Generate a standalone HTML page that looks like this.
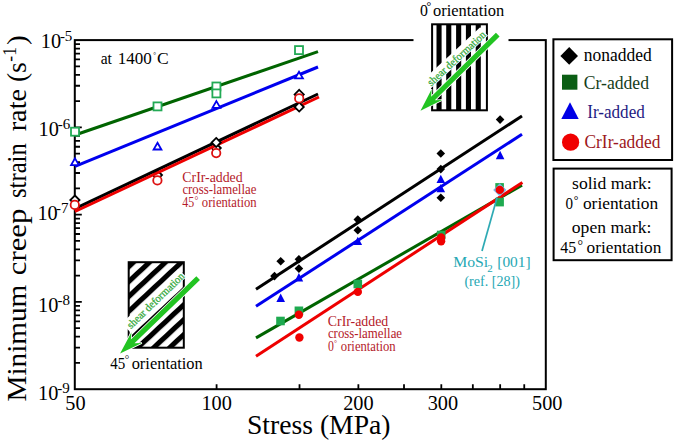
<!DOCTYPE html><html><head><meta charset="utf-8"><style>html,body{margin:0;padding:0;background:#fff;overflow:hidden}svg{display:block}text{font-family:"Liberation Serif",serif;white-space:pre}</style></head><body>
<svg width="675" height="443" viewBox="0 0 675 443">
<rect width="675" height="443" fill="#fff"/>
<path d="M74.80 362.93h5.2 M74.80 347.56h5.2 M74.80 336.66h5.2 M74.80 328.20h5.2 M74.80 321.29h5.2 M74.80 315.44h5.2 M74.80 310.38h5.2 M74.80 305.92h5.2 M74.80 275.65h5.2 M74.80 260.28h5.2 M74.80 249.38h5.2 M74.80 240.92h5.2 M74.80 234.01h5.2 M74.80 228.17h5.2 M74.80 223.11h5.2 M74.80 218.64h5.2 M74.80 188.38h5.2 M74.80 173.01h5.2 M74.80 162.11h5.2 M74.80 153.65h5.2 M74.80 146.74h5.2 M74.80 140.89h5.2 M74.80 135.83h5.2 M74.80 131.37h5.2 M74.80 101.10h5.2 M74.80 85.73h5.2 M74.80 74.83h5.2 M74.80 66.37h5.2 M74.80 59.46h5.2 M74.80 53.62h5.2 M74.80 48.56h5.2 M74.80 44.09h5.2 M74.80 301.93h7 M74.80 214.65h7 M74.80 127.38h7 M216.59 389.20v-5 M299.52 389.20v-5 M358.37 389.20v-5 M404.01 389.20v-5 M441.31 389.20v-5 M472.84 389.20v-5 M500.16 389.20v-5 M524.25 389.20v-5" stroke="#000" stroke-width="1.8" fill="none"/>
<rect x="74.8" y="40.1" width="470.99999999999994" height="349.09999999999997" fill="none" stroke="#000" stroke-width="2"/>
<text x="40.82" y="47.5" font-size="20.3">10</text>
<text x="59.89" y="40.50" font-size="15">-5</text>
<text x="38.62" y="135.5" font-size="20.3">10</text>
<text x="57.85" y="128.50" font-size="15">-6</text>
<text x="37.42" y="219.5" font-size="20.3">10</text>
<text x="55.94" y="212.50" font-size="15">-7</text>
<text x="38.12" y="312.2" font-size="20.3">10</text>
<text x="57.48" y="305.20" font-size="15">-8</text>
<text x="38.12" y="399.5" font-size="20.3">10</text>
<text x="57.22" y="392.50" font-size="15">-9</text>
<text x="75.50" y="410" font-size="20.3" text-anchor="middle">50</text>
<text x="216.60" y="410" font-size="20.3" text-anchor="middle">100</text>
<text x="358.40" y="410" font-size="20.3" text-anchor="middle">200</text>
<text x="442.90" y="410" font-size="20.3" text-anchor="middle">300</text>
<text x="547.30" y="410" font-size="20.3" text-anchor="middle">500</text>
<g transform="rotate(-90)">
<text x="-401.54" y="26.20" font-size="28" fill="#000" textLength="116.80" lengthAdjust="spacingAndGlyphs">Minimum</text>
<text x="-275.17" y="26.20" font-size="28" fill="#000" textLength="66.37" lengthAdjust="spacingAndGlyphs">creep</text>
<text x="-198.01" y="26.20" font-size="28" fill="#000" textLength="54.78" lengthAdjust="spacingAndGlyphs">strain</text>
<text x="-131.37" y="26.20" font-size="28" fill="#000" textLength="42.45" lengthAdjust="spacingAndGlyphs">rate</text>
<text x="-82.12" y="26.20" font-size="28" fill="#000" textLength="20.02" lengthAdjust="spacingAndGlyphs">(s</text>
<text x="-45.14" y="26.20" font-size="28" fill="#000" textLength="9.72" lengthAdjust="spacingAndGlyphs">)</text>
<text x="-61.65" y="15.60" font-size="18.5" fill="#000" textLength="14.60" lengthAdjust="spacingAndGlyphs">-1</text>
</g>
<text x="246.95" y="434.00" font-size="27" fill="#000" textLength="143.56" lengthAdjust="spacingAndGlyphs">Stress (MPa)</text>
<path d="M74.90 195.50L79.50 200.10L74.90 204.70L70.30 200.10Z" fill="#fff" stroke="#000" stroke-width="1.8"/>
<path d="M157.40 170.50L162.00 175.10L157.40 179.70L152.80 175.10Z" fill="#fff" stroke="#000" stroke-width="1.8"/>
<path d="M216.20 143.50L220.80 148.10L216.20 152.70L211.60 148.10Z" fill="#fff" stroke="#000" stroke-width="1.8"/>
<line x1="75" y1="135.00" x2="318" y2="51.60" stroke="#006400" stroke-width="3"/>
<line x1="75" y1="166.40" x2="318" y2="67.00" stroke="#0000ee" stroke-width="3"/>
<line x1="75" y1="208.60" x2="318" y2="94.00" stroke="#000" stroke-width="3"/>
<line x1="75" y1="211.50" x2="319" y2="97.00" stroke="#ee0000" stroke-width="3"/>
<line x1="256" y1="289.20" x2="522" y2="116.00" stroke="#000" stroke-width="3"/>
<line x1="256" y1="306.30" x2="522" y2="134.30" stroke="#0000ee" stroke-width="3"/>
<line x1="256" y1="337.90" x2="522" y2="185.20" stroke="#006400" stroke-width="3"/>
<line x1="256" y1="356.30" x2="522.4" y2="182.50" stroke="#ee0000" stroke-width="3"/>
<path d="M216.20 137.90L220.80 142.50L216.20 147.10L211.60 142.50Z" fill="#fff" stroke="#000" stroke-width="1.8"/>
<path d="M299.20 89.80L303.80 94.40L299.20 99.00L294.60 94.40Z" fill="#fff" stroke="#000" stroke-width="1.8"/>
<path d="M299.20 102.40L303.80 107.00L299.20 111.60L294.60 107.00Z" fill="#fff" stroke="#000" stroke-width="1.8"/>
<circle cx="74.80" cy="204.90" r="4.2" fill="#fff" stroke="#dd1111" stroke-width="1.8"/>
<circle cx="157.40" cy="180.40" r="4.2" fill="#fff" stroke="#dd1111" stroke-width="1.8"/>
<circle cx="216.20" cy="153.10" r="4.2" fill="#fff" stroke="#dd1111" stroke-width="1.8"/>
<circle cx="299.20" cy="98.40" r="4.2" fill="#fff" stroke="#dd1111" stroke-width="1.8"/>
<path d="M75.00 158.40L78.90 165.10L71.10 165.10Z" fill="#fff" stroke="#0000ee" stroke-width="1.8"/>
<path d="M157.50 142.80L161.40 149.50L153.60 149.50Z" fill="#fff" stroke="#0000ee" stroke-width="1.8"/>
<path d="M216.40 101.10L220.30 107.80L212.50 107.80Z" fill="#fff" stroke="#0000ee" stroke-width="1.8"/>
<path d="M299.00 71.70L302.90 78.40L295.10 78.40Z" fill="#fff" stroke="#0000ee" stroke-width="1.8"/>
<rect x="71.00" y="127.70" width="8" height="8" fill="#fff" stroke="#22aa55" stroke-width="1.8"/>
<rect x="153.50" y="102.40" width="8" height="8" fill="#fff" stroke="#22aa55" stroke-width="1.8"/>
<rect x="212.40" y="82.50" width="8" height="8" fill="#fff" stroke="#22aa55" stroke-width="1.8"/>
<rect x="212.40" y="89.40" width="8" height="8" fill="#fff" stroke="#22aa55" stroke-width="1.8"/>
<rect x="295.00" y="46.10" width="8" height="8" fill="#fff" stroke="#22aa55" stroke-width="1.8"/>
<path d="M274.50 271.80L278.80 276.10L274.50 280.40L270.20 276.10Z" fill="#000"/>
<path d="M280.70 256.90L285.00 261.20L280.70 265.50L276.40 261.20Z" fill="#000"/>
<path d="M298.90 254.90L303.20 259.20L298.90 263.50L294.60 259.20Z" fill="#000"/>
<path d="M298.90 264.30L303.20 268.60L298.90 272.90L294.60 268.60Z" fill="#000"/>
<path d="M357.80 215.30L362.10 219.60L357.80 223.90L353.50 219.60Z" fill="#000"/>
<path d="M357.80 226.00L362.10 230.30L357.80 234.60L353.50 230.30Z" fill="#000"/>
<path d="M440.80 149.20L445.10 153.50L440.80 157.80L436.50 153.50Z" fill="#000"/>
<path d="M440.80 164.80L445.10 169.10L440.80 173.40L436.50 169.10Z" fill="#000"/>
<path d="M440.80 193.40L445.10 197.70L440.80 202.00L436.50 197.70Z" fill="#000"/>
<path d="M500.10 115.30L504.40 119.60L500.10 123.90L495.80 119.60Z" fill="#000"/>
<path d="M280.70 293.50L285.00 301.90L276.40 301.90Z" fill="#0000ee"/>
<path d="M298.90 273.10L303.20 281.50L294.60 281.50Z" fill="#0000ee"/>
<path d="M357.80 236.70L362.10 245.10L353.50 245.10Z" fill="#0000ee"/>
<path d="M440.80 174.70L445.10 183.10L436.50 183.10Z" fill="#0000ee"/>
<path d="M440.80 183.90L445.10 192.30L436.50 192.30Z" fill="#0000ee"/>
<path d="M500.10 150.80L504.40 159.20L495.80 159.20Z" fill="#0000ee"/>
<rect x="276.20" y="316.70" width="8.6" height="8.6" fill="#1eaa50"/>
<rect x="294.60" y="306.50" width="8.6" height="8.6" fill="#1eaa50"/>
<rect x="353.50" y="279.70" width="8.6" height="8.6" fill="#1eaa50"/>
<rect x="436.90" y="230.70" width="8.6" height="8.6" fill="#1eaa50"/>
<rect x="495.30" y="183.10" width="8.6" height="8.6" fill="#1eaa50"/>
<rect x="495.30" y="197.80" width="8.6" height="8.6" fill="#1eaa50"/>
<path d="M499.8 183.29999999999998L506.4 189.9L499.8 196.5L493.2 189.9Z" fill="#7fb2e0"/>
<circle cx="298.90" cy="314.80" r="4.2" fill="#f00000"/>
<circle cx="299.40" cy="337.50" r="4.2" fill="#f00000"/>
<circle cx="357.80" cy="291.90" r="4.2" fill="#f00000"/>
<circle cx="441.10" cy="237.40" r="4.2" fill="#f00000"/>
<circle cx="441.10" cy="241.30" r="4.2" fill="#f00000"/>
<circle cx="499.80" cy="189.90" r="4.2" fill="#f00000"/>
<line x1="482.0" y1="251" x2="497.1" y2="197.4" stroke="#2eaab4" stroke-width="1.7"/>
<text x="453.15" y="267.00" font-size="15" fill="#26a8b4" textLength="35.05" lengthAdjust="spacingAndGlyphs">MoSi</text>
<text x="487.3" y="271.5" font-size="11" fill="#26a8b4">2</text>
<text x="497.26" y="267.00" font-size="15" fill="#26a8b4" textLength="33.39" lengthAdjust="spacingAndGlyphs">[001]</text>
<text x="464.38" y="285.50" font-size="15" fill="#26a8b4" textLength="55.64" lengthAdjust="spacingAndGlyphs">(ref. [28])</text>
<text x="182.34" y="182.20" font-size="14" fill="#b41a2a" textLength="60.33" lengthAdjust="spacingAndGlyphs">CrIr-added</text>
<text x="182.41" y="194.30" font-size="14" fill="#b41a2a" textLength="73.93" lengthAdjust="spacingAndGlyphs">cross-lamellae</text>
<text x="182.27" y="207.30" font-size="14" fill="#b41a2a" textLength="11.90" lengthAdjust="spacingAndGlyphs">45</text>
<text x="194.54" y="203.86" font-size="9.56" fill="#b41a2a">°</text>
<text x="201.82" y="207.30" font-size="14" fill="#b41a2a" textLength="54.87" lengthAdjust="spacingAndGlyphs">orientation</text>
<text x="327.83" y="326.10" font-size="14" fill="#b41a2a" textLength="60.43" lengthAdjust="spacingAndGlyphs">CrIr-added</text>
<text x="327.91" y="338.30" font-size="14" fill="#b41a2a" textLength="74.13" lengthAdjust="spacingAndGlyphs">cross-lamellae</text>
<text x="327.95" y="351.10" font-size="14" fill="#b41a2a" textLength="5.90" lengthAdjust="spacingAndGlyphs">0</text>
<text x="334.04" y="346.04" font-size="7.59" fill="#b41a2a">°</text>
<text x="340.82" y="351.10" font-size="14" fill="#b41a2a" textLength="54.87" lengthAdjust="spacingAndGlyphs">orientation</text>
<text x="100.65" y="64.40" font-size="16.5" fill="#000" textLength="11.24" lengthAdjust="spacingAndGlyphs">at</text>
<text x="117.80" y="64.40" font-size="16.5" fill="#000" textLength="34.04" lengthAdjust="spacingAndGlyphs">1400</text>
<text x="153.37" y="56.71" font-size="6.93" fill="#000">°</text>
<text x="156.98" y="64.40" font-size="16.5" fill="#000" textLength="11.69" lengthAdjust="spacingAndGlyphs">C</text>
<rect x="553.4" y="39.3" width="118.7" height="120.7" fill="#fff" stroke="#000" stroke-width="2"/>
<path d="M569.2 47L578 55.9L569.2 64.7L560.4 55.9Z" fill="#000"/>
<rect x="562" y="74.7" width="15.4" height="15" fill="#0b5e14"/>
<path d="M570 102.3L578.7 119.1L561.3 119.1Z" fill="#0000e6"/>
<circle cx="570.6" cy="142.2" r="8.6" fill="#f00000"/>
<text x="583.80" y="60.70" font-size="18" fill="#000" textLength="67.91" lengthAdjust="spacingAndGlyphs">nonadded</text>
<text x="583.78" y="88.50" font-size="18" fill="#163d1a" textLength="65.23" lengthAdjust="spacingAndGlyphs">Cr-added</text>
<text x="587.19" y="118.10" font-size="18" fill="#1e1a82" textLength="57.62" lengthAdjust="spacingAndGlyphs">Ir-added</text>
<text x="584.49" y="147.70" font-size="18" fill="#9c1620" textLength="75.92" lengthAdjust="spacingAndGlyphs">CrIr-added</text>
<rect x="553.6" y="168.6" width="118" height="91.6" fill="#fff" stroke="#000" stroke-width="2"/>
<text x="572.08" y="189.10" font-size="17" fill="#000" textLength="79.65" lengthAdjust="spacingAndGlyphs">solid mark:</text>
<text x="565.62" y="208.50" font-size="17.5" fill="#000" textLength="7.55" lengthAdjust="spacingAndGlyphs">0</text>
<text x="573.75" y="204.28" font-size="11.54" fill="#000">°</text>
<text x="582.94" y="208.50" font-size="17.5" fill="#000" textLength="75.12" lengthAdjust="spacingAndGlyphs">orientation</text>
<text x="571.83" y="233.10" font-size="17" fill="#000" textLength="79.60" lengthAdjust="spacingAndGlyphs">open mark:</text>
<text x="560.19" y="253.20" font-size="17.5" fill="#000" textLength="15.93" lengthAdjust="spacingAndGlyphs">45</text>
<text x="577.54" y="250.31" font-size="13.85" fill="#000">°</text>
<text x="586.54" y="253.20" font-size="17.5" fill="#000" textLength="74.82" lengthAdjust="spacingAndGlyphs">orientation</text>
<rect x="413.5" y="0" width="95" height="112" fill="#fff"/>
<g>
<rect x="436.5" y="24" width="5.1" height="86" fill="#000"/>
<rect x="446.2" y="24" width="5.1" height="86" fill="#000"/>
<rect x="456.1" y="24" width="5.1" height="86" fill="#000"/>
<rect x="465.9" y="24" width="5.1" height="86" fill="#000"/>
<rect x="475.7" y="24" width="5.1" height="86" fill="#000"/>
<rect x="432.1" y="24.3" width="54.8" height="86" fill="none" stroke="#000" stroke-width="2"/>
</g>
<g transform="translate(420.5,110.8) rotate(-44.6)">
<g transform="translate(24.8,-9.7) rotate(2.0)"><rect x="-2.5" y="-10.5" width="78.5" height="11.5" fill="#fff"/><text transform="scale(0.943,1)" font-size="11" fill="#32a83a" stroke="#32a83a" stroke-width="0.25">shear deformation</text></g>
<path d="M0 0L23 -7.5L17.5 -2.6L108.5 -2.6L108.5 2.6L17.5 2.6L23 7.5Z" fill="#22c422" stroke="#fff" stroke-width="1.6" paint-order="stroke"/>
</g>
<text x="420.10" y="16.00" font-size="17" fill="#000" textLength="7.90" lengthAdjust="spacingAndGlyphs">0</text>
<text x="426.53" y="10.20" font-size="11.87" fill="#000">°</text>
<text x="432.97" y="16.00" font-size="17" fill="#000" textLength="71.28" lengthAdjust="spacingAndGlyphs">orientation</text>
<defs><pattern id="p45" patternUnits="userSpaceOnUse" x="7.8" y="0" width="10.9" height="400" patternTransform="rotate(47)"><rect x="0" y="0" width="5.1" height="400" fill="#000"/></pattern></defs>
<rect x="128.7" y="262.2" width="55" height="85" fill="#fff"/>
<rect x="128.7" y="262.2" width="55" height="85" fill="url(#p45)"/>
<rect x="128.7" y="262.2" width="55.1" height="85.5" fill="none" stroke="#000" stroke-width="2"/>
<g transform="translate(120.1,353.6) rotate(-44)">
<g transform="translate(24.8,-10) rotate(0)"><rect x="-2.5" y="-10.5" width="78.5" height="11.5" fill="#fff"/><text transform="scale(0.943,1)" font-size="11" fill="#32a83a" stroke="#32a83a" stroke-width="0.25">shear deformation</text></g>
<path d="M0 0L23 -7.5L17.5 -2.6L108.5 -2.6L108.5 2.6L17.5 2.6L23 7.5Z" fill="#22c422" stroke="#fff" stroke-width="1.6" paint-order="stroke"/>
</g>
<text x="110.21" y="368.70" font-size="17" fill="#000" textLength="14.98" lengthAdjust="spacingAndGlyphs">45</text>
<text x="124.86" y="363.26" font-size="11.21" fill="#000">°</text>
<text x="131.68" y="368.70" font-size="17" fill="#000" textLength="71.07" lengthAdjust="spacingAndGlyphs">orientation</text>
</svg></body></html>
